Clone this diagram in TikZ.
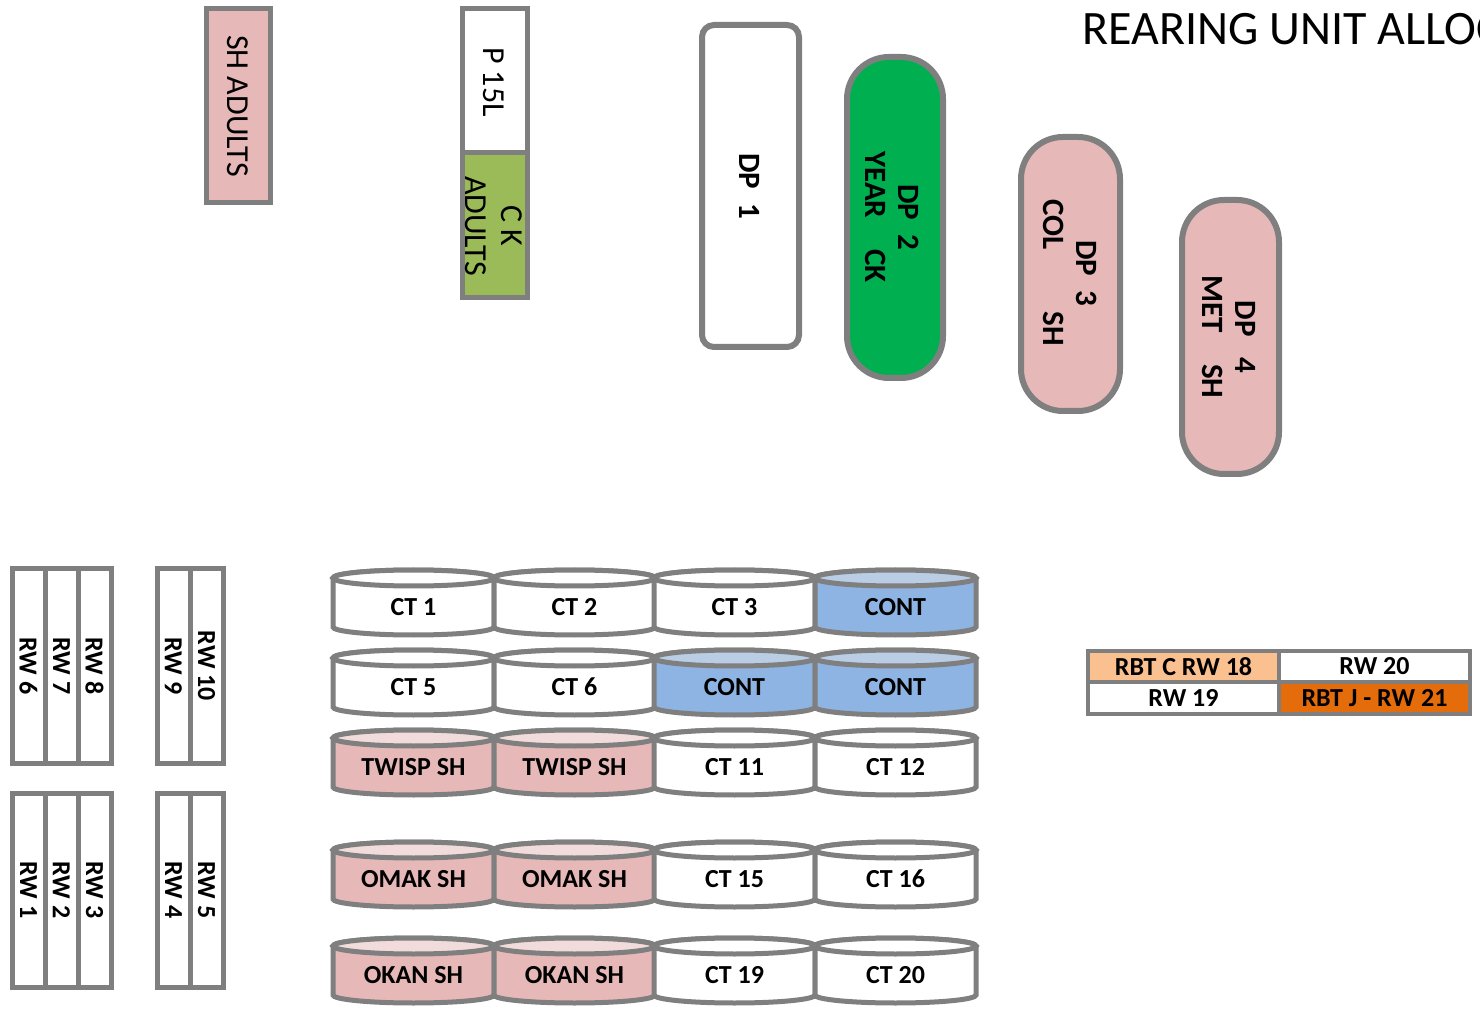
\documentclass[tikz,border=0pt]{standalone}
\usepackage{fontspec}
\setmainfont{Carlito}

\definecolor{rimgray}{HTML}{7F7F7F}
\definecolor{shpink}{HTML}{E6B9B8}
\definecolor{lidpink}{HTML}{F2DCDB}
\definecolor{contblue}{HTML}{8DB4E2}
\definecolor{lidblue}{HTML}{B9CDE5}
\definecolor{ckgreen}{HTML}{9BBB59}
\definecolor{dpgreen}{HTML}{00B050}
\definecolor{rbtlight}{HTML}{FAC090}
\definecolor{rbtdark}{HTML}{E46C0A}

\tikzset{
  rim/.style={draw=rimgray, line width=2.5pt},
  pondrim/.style={draw=rimgray, line width=3pt},
  boxlabel/.style={rotate=-90, font=\fontsize{16}{18}\selectfont, align=center, inner sep=0pt},
  dplabel/.style={rotate=-90, font=\fontsize{15.5}{16.5}\selectfont\bfseries, align=center, inner sep=0pt},
  rwlabel/.style={rotate=-90, font=\fontsize{13}{15}\selectfont\bfseries, inner sep=0pt},
  tanklabel/.style={font=\fontsize{13}{15}\selectfont\bfseries, inner sep=0pt},
}

% circular tank: left x, top y, name, body colour, lid colour, label
\newcommand{\tank}[6]{%
  \filldraw[rim, fill=#4] (#1,#2+8) -- (#1,#2+57)
    arc[start angle=180, end angle=360, x radius=40.25pt, y radius=4pt]
    -- (#1+161,#2+8)
    arc[start angle=0, end angle=180, x radius=40.25pt, y radius=4pt] -- cycle;
  \filldraw[rim, fill=#5] (#1+80.5,#2+8) ellipse[x radius=40.25pt, y radius=4pt];
  \node[tanklabel] (#3) at (#1+80.5,#2+37) {#6};
}

\begin{document}
\begin{tikzpicture}[x=0.5pt,y=-0.5pt]
    \useasboundingbox (0,0) rectangle (1480,1016);

    % title
    \node[anchor=base west, inner sep=0pt, font=\fontsize{24}{28}\selectfont] (title) at (1082,45) {REARING UNIT ALLOCATION};

    % adult holding
    \draw[rim, fill=shpink] (206,9) rectangle (270,203);
    \node[boxlabel] (shadults) at (238,106) {SH ADULTS};
    \draw[rim, fill=white] (462,9) rectangle (527,153);
    \draw[rim, fill=ckgreen] (462,153) rectangle (527,298);
    \node[boxlabel] (p15l) at (494,82) {P 15L};
    \node[boxlabel] (ckadults) at (494,226) {C K\\ADULTS};

    % ponds
    \draw[pondrim, fill=white, rounded corners=6pt] (702,25) rectangle (799,347);
    \node[dplabel] (dp1) at (750,186) {DP\ \ 1};
    \draw[pondrim, fill=dpgreen, rounded corners=21pt] (847,57) rectangle (943,378);
    \node[dplabel] (dp2) at (892,217) {DP\ \ 2\\YEAR\quad CK};
    \draw[pondrim, fill=shpink, rounded corners=21pt] (1021,137) rectangle (1120,411);
    \node[dplabel] (dp3) at (1070,273) {DP\ \ 3\\COL\qquad SH};
    \draw[pondrim, fill=shpink, rounded corners=21pt] (1182,200) rectangle (1279,474);
    \node[dplabel] (dp4) at (1229,337) {DP\ \ \ 4\\MET\quad SH};

    % raceways
    \draw[rim, fill=white] (12,569) rectangle (111,763);
    \draw[rim] (45,569) -- (45,763) (78,569) -- (78,763);
    \node[rwlabel] (rw6) at (28.5,666) {RW 6};
    \node[rwlabel] (rw7) at (61.5,666) {RW 7};
    \node[rwlabel] (rw8) at (94.5,666) {RW 8};
    \draw[rim, fill=white] (157,569) rectangle (223,763);
    \draw[rim] (190,569) -- (190,763);
    \node[rwlabel] (rw9) at (173.5,666) {RW 9};
    \node[rwlabel] (rw10) at (206.5,666) {RW 10};
    \draw[rim, fill=white] (12,793) rectangle (111,987);
    \draw[rim] (45,793) -- (45,987) (78,793) -- (78,987);
    \node[rwlabel] (rw1) at (28.5,890) {RW 1};
    \node[rwlabel] (rw2) at (61.5,890) {RW 2};
    \node[rwlabel] (rw3) at (94.5,890) {RW 3};
    \draw[rim, fill=white] (157,793) rectangle (223,987);
    \draw[rim] (190,793) -- (190,987);
    \node[rwlabel] (rw4) at (173.5,890) {RW 4};
    \node[rwlabel] (rw5) at (206.5,890) {RW 5};

    % circular tanks
    \tank{333}{570}{ct1}{white}{white}{CT 1}
    \tank{494}{570}{ct2}{white}{white}{CT 2}
    \tank{654}{570}{ct3}{white}{white}{CT 3}
    \tank{815}{570}{ct4}{contblue}{lidblue}{CONT}
    \tank{333}{650}{ct5}{white}{white}{CT 5}
    \tank{494}{650}{ct6}{white}{white}{CT 6}
    \tank{654}{650}{ct7}{contblue}{lidblue}{CONT}
    \tank{815}{650}{ct8}{contblue}{lidblue}{CONT}
    \tank{333}{730}{ct9}{shpink}{lidpink}{TWISP SH}
    \tank{494}{730}{ct10}{shpink}{lidpink}{TWISP SH}
    \tank{654}{730}{ct11}{white}{white}{CT 11}
    \tank{815}{730}{ct12}{white}{white}{CT 12}
    \tank{333}{842}{ct13}{shpink}{lidpink}{OMAK SH}
    \tank{494}{842}{ct14}{shpink}{lidpink}{OMAK SH}
    \tank{654}{842}{ct15}{white}{white}{CT 15}
    \tank{815}{842}{ct16}{white}{white}{CT 16}
    \tank{333}{938}{ct17}{shpink}{lidpink}{OKAN SH}
    \tank{494}{938}{ct18}{shpink}{lidpink}{OKAN SH}
    \tank{654}{938}{ct19}{white}{white}{CT 19}
    \tank{815}{938}{ct20}{white}{white}{CT 20}

    % trout raceways
    \fill[rimgray] (1086,649) rectangle (1472,716);
    \fill[rbtlight] (1090,653) rectangle (1277,680);
    \fill[white] (1281,653) rectangle (1468,680);
    \fill[white] (1090,684) rectangle (1277,712);
    \fill[rbtdark] (1281,684) rectangle (1468,712);
    \node[tanklabel] (rw18) at (1183.5,666.5) {RBT C RW 18};
    \node[tanklabel] (rw20) at (1374.5,666.5) {RW 20};
    \node[tanklabel] (rw19) at (1183.5,698) {RW 19};
    \node[tanklabel] (rw21) at (1374.5,698) {RBT J - RW 21};
\end{tikzpicture}
\end{document}
